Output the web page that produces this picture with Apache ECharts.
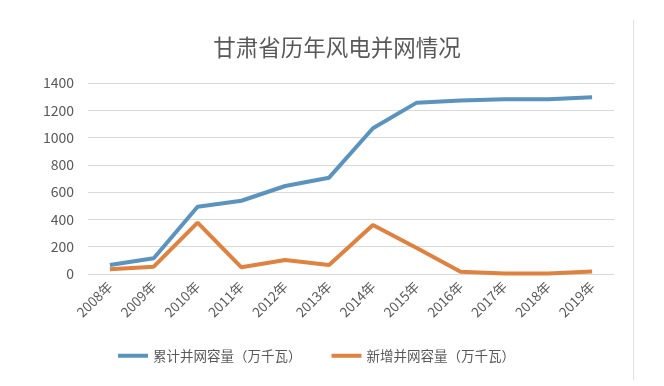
<!DOCTYPE html>
<html>
<head>
<meta charset="utf-8">
<script src="https://cdn.jsdelivr.net/npm/echarts@6/dist/echarts.min.js"></script>
<style>html,body{margin:0;padding:0;background:#fff;}#c{width:664px;height:386px;}</style>
</head>
<body>
<div id="c"></div>
<script>
var categories = ['2008年','2009年','2010年','2011年','2012年','2013年','2014年','2015年','2016年','2017年','2018年','2019年'];
var cumulative = [66, 115, 493, 537, 645, 706, 1068, 1256, 1272, 1280, 1280, 1295];
var added = [34, 54, 376, 49, 103, 66, 359, 190, 17, 4, 4, 18];
var seriesNames = ['累计并网容量（万千瓦）', '新增并网容量（万千瓦）'];
var yTicks = { min: 0, max: 1400, interval: 200 };

var chart = echarts.init(document.getElementById('c'), null, { renderer: 'canvas' });
var font = '"Noto Sans CJK SC", "Microsoft YaHei", sans-serif';
chart.setOption({
  animation: false,
  backgroundColor: '#ffffff',
  title: {
    text: '甘肃省历年风电并网情况',
    left: 332, top: 31, textAlign: 'center',
    textStyle: { fontFamily: font, fontSize: 22.5, fontWeight: 'normal', color: '#595959' }
  },
  legend: {
    top: 344, left: 113,
    itemWidth: 30, itemHeight: 4, itemGap: 30,
    icon: 'rect',
    textStyle: { fontFamily: font, fontSize: 13.5, color: '#595959' },
    data: seriesNames
  },
  grid: { left: 88, right: 50, top: 83, bottom: 112 },
  xAxis: {
    type: 'category', data: categories, boundaryGap: true,
    axisLine: { show: false }, axisTick: { show: false },
    axisLabel: { rotate: 45, fontFamily: font, fontSize: 13.5, color: '#595959', margin: 10, interval: 0 }
  },
  yAxis: {
    type: 'value', min: yTicks.min, max: yTicks.max, interval: yTicks.interval,
    axisLine: { show: false }, axisTick: { show: false },
    axisLabel: { fontFamily: font, fontSize: 14, color: '#595959', margin: 14, formatter: function (v) { return String(v); } },
    splitLine: { lineStyle: { color: '#d9d9d9', width: 1 } }
  },
  graphic: [{
    type: 'line', shape: { x1: 633.5, y1: 20, x2: 633.5, y2: 380 },
    style: { stroke: '#e0e0e0', lineWidth: 1 }
  }],
  series: [
    { name: seriesNames[0], type: 'line', data: cumulative, symbol: 'none',
      lineStyle: { width: 4, color: '#5b93bf' }, itemStyle: { color: '#5b93bf' } },
    { name: seriesNames[1], type: 'line', data: added, symbol: 'none',
      lineStyle: { width: 4, color: '#df8240' }, itemStyle: { color: '#df8240' } }
  ]
});
</script>
</body>
</html>
